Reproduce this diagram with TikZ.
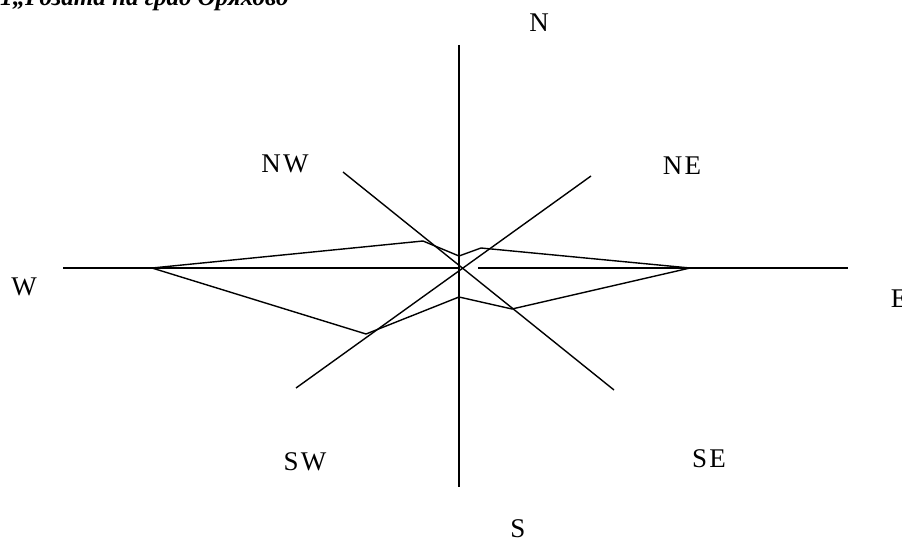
\documentclass[tikz,border=0pt]{standalone}
\usepackage{fontspec}
\setmainfont{Liberation Serif}
\newfontfamily\lblfont[LetterSpace=9]{Liberation Serif}
\begin{document}
\begin{tikzpicture}[x=1pt,y=-1pt,
  ln/.style={line width=1.4pt,black},
  lbl/.style={font=\lblfont\fontsize{27}{31}\selectfont,inner sep=0pt},
  ttl/.style={font=\fontsize{25}{30}\selectfont\bfseries\itshape,inner sep=0pt,anchor=base west}]
\path[use as bounding box] (0,0) rectangle (902,551);
\clip (0,0) rectangle (902,551);
% title (cut off at top)
\node[ttl] (title) at (0,6) {1„Розата на град Оряхово};
% axes
\coordinate (nTop) at (459,45);
\coordinate (sBot) at (459,487);
\coordinate (wEnd) at (63,268);
\coordinate (cL) at (459,268);
\coordinate (cR) at (478,268);
\coordinate (eEnd) at (848,268);
\coordinate (nw) at (343,172);
\coordinate (se) at (614,390);
\coordinate (ne) at (591,176);
\coordinate (sw) at (296,388);
\draw[ln] (nTop) -- (sBot);
\draw[ln] (wEnd) -- (cL);
\draw[ln] (cR) -- (eEnd);
\draw[ln] (nw) -- (se);
\draw[ln] (ne) -- (sw);
% star polygon
\coordinate (pW) at (152,268);
\coordinate (pNW) at (423,241);
\coordinate (pN) at (459,256);
\coordinate (pNE) at (481,248);
\coordinate (pE) at (690,268);
\coordinate (pSE) at (512,309);
\coordinate (pS) at (459,297);
\coordinate (pSW) at (366,334);
\draw[ln,line join=round] (pW) -- (pNW) -- (pN) -- (pNE) -- (pE) -- (pSE) -- (pS) -- (pSW) -- cycle;
% labels
\node[lbl] (N) at (539,23) {N};
\node[lbl] (NE) at (682,166) {NE};
\node[lbl] (NW) at (285,164) {NW};
\node[lbl] (W) at (24,287) {W};
\node[lbl] (E) at (899,299) {E};
\node[lbl] (SW) at (305,462) {SW};
\node[lbl] (SE) at (709,459) {SE};
\node[lbl] (S) at (518,529) {S};
\end{tikzpicture}
\end{document}
